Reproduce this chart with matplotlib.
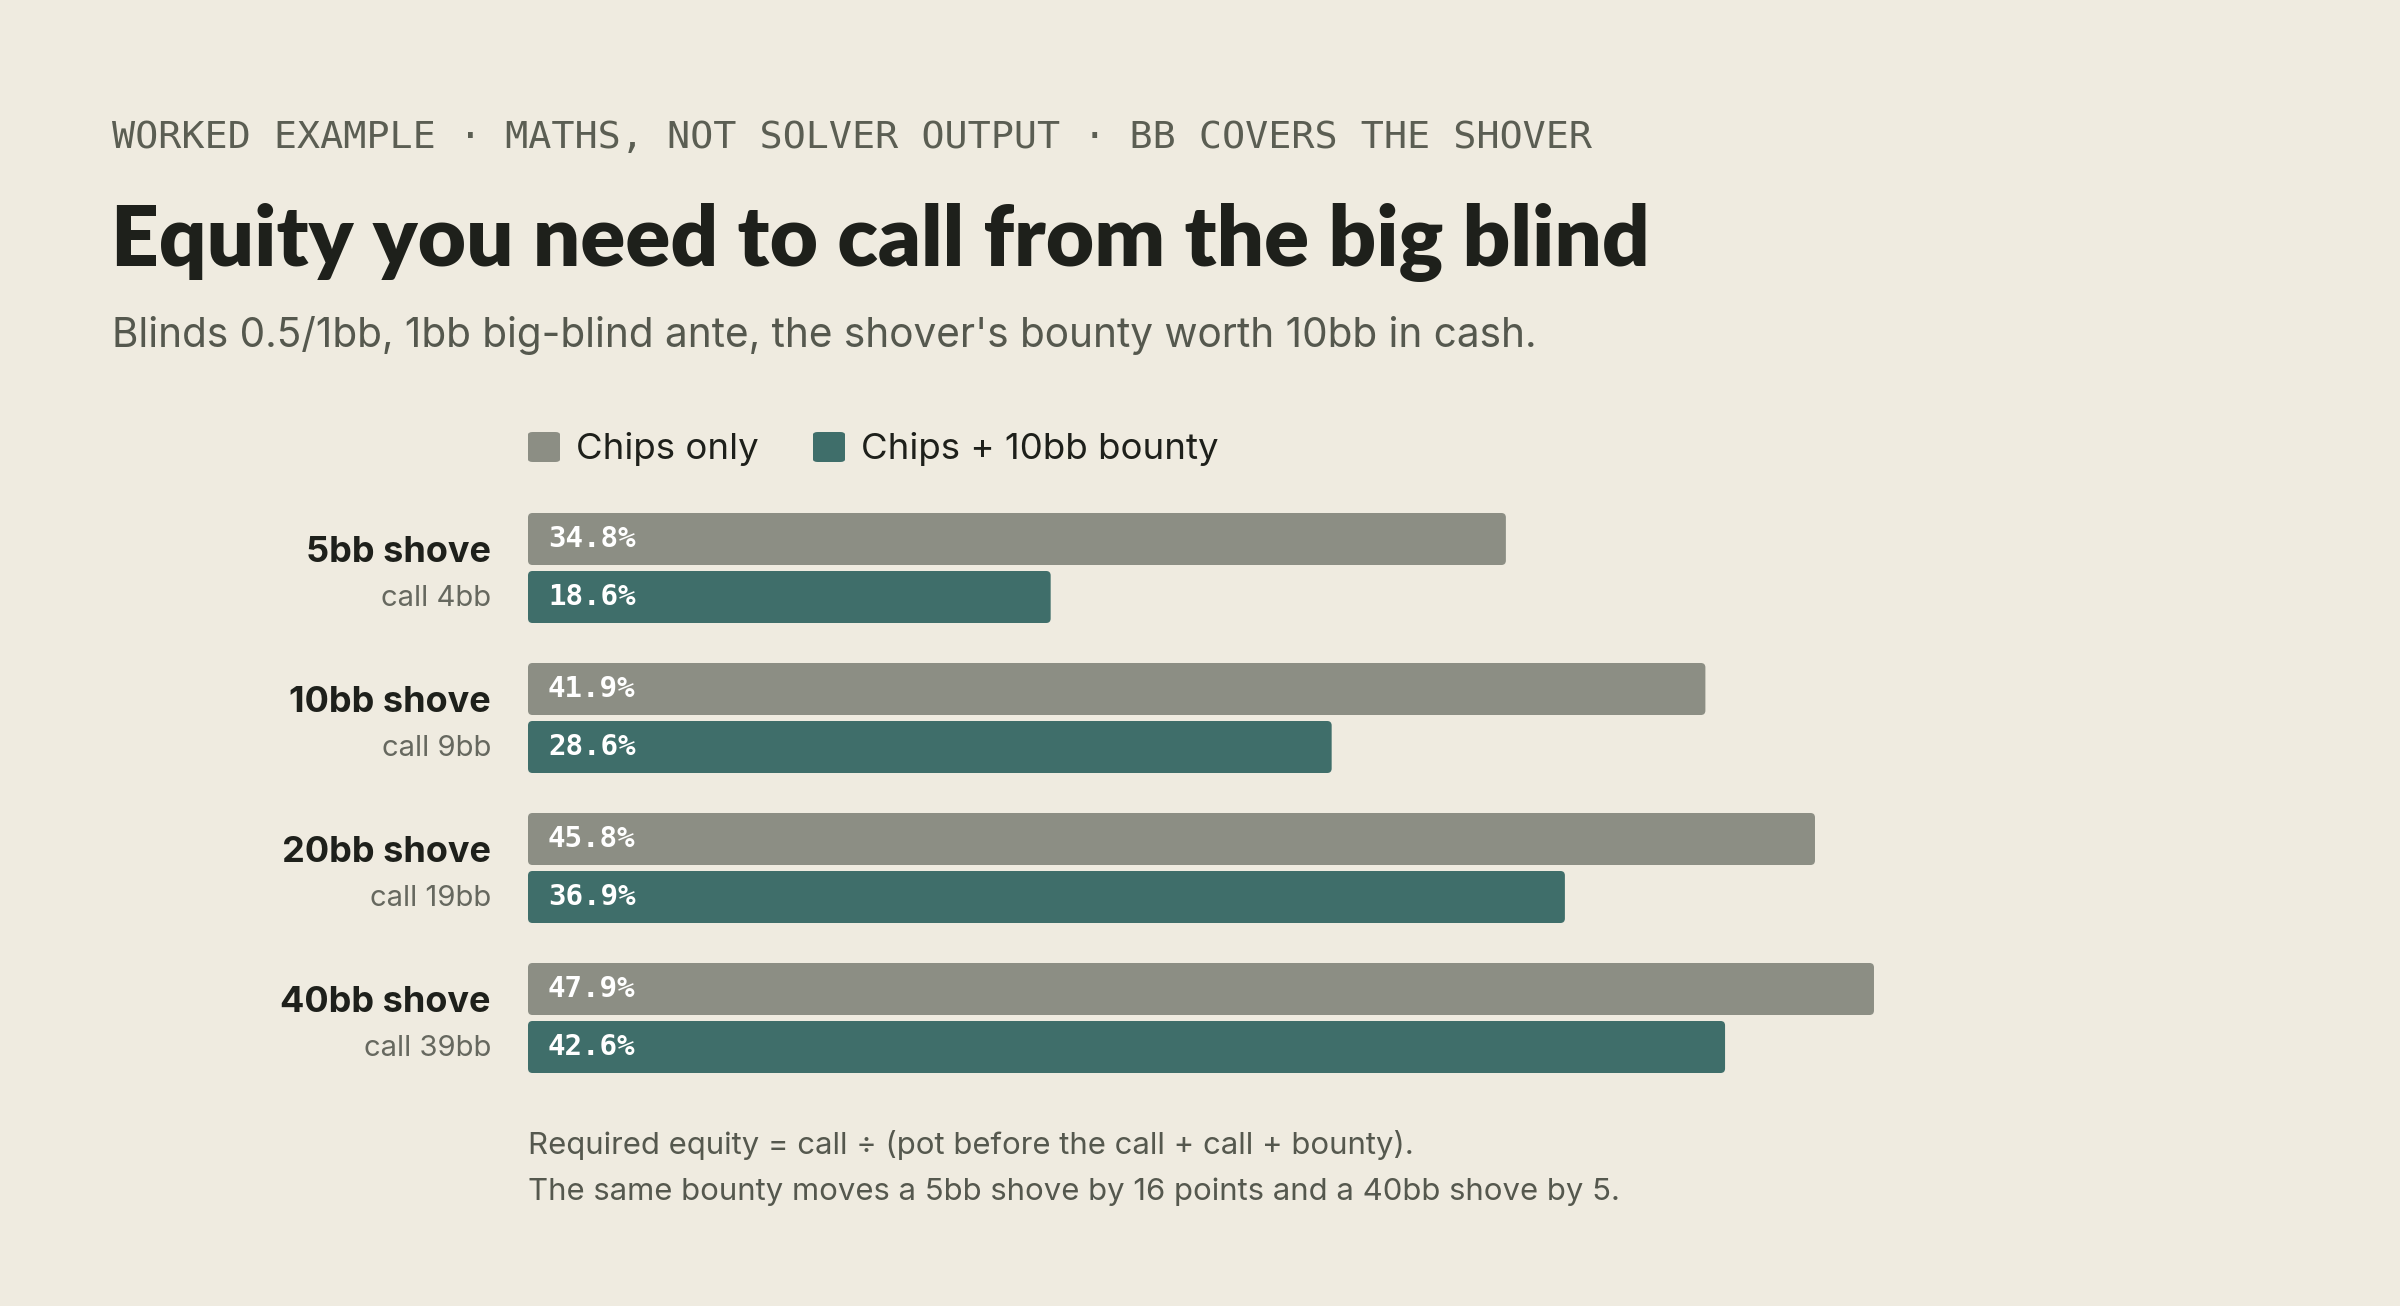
import matplotlib
matplotlib.use("Agg")
import matplotlib.pyplot as plt
from matplotlib.patches import FancyBboxPatch
from matplotlib.transforms import blended_transform_factory

# ---- data ----
categories = ["5bb shove", "10bb shove", "20bb shove", "40bb shove"]
call_labels = ["call 4bb", "call 9bb", "call 19bb", "call 39bb"]
chips_only = [34.8, 41.9, 45.8, 47.9]
chips_bounty = [18.6, 28.6, 36.9, 42.6]
series_names = ["Chips only", "Chips + 10bb bounty"]

header = "WORKED EXAMPLE · MATHS, NOT SOLVER OUTPUT · BB COVERS THE SHOVER"
title = "Equity you need to call from the big blind"
subtitle = "Blinds 0.5/1bb, 1bb big-blind ante, the shover's bounty worth 10bb in cash."
footnote1 = "Required equity = call ÷ (pot before the call + call + bounty)."
footnote2 = "The same bounty moves a 5bb shove by 16 points and a 40bb shove by 5."

# ---- style ----
BG = "#EFEBE0"
GRAY = "#8C8E84"
TEAL = "#3F6E6A"
DARK = "#1E201B"
MID = "#55584E"
SOFT = "#66685F"
SANS = ["Inter", "DejaVu Sans"]
TITLE_FONT = ["Lato", "DejaVu Sans"]
MONO = ["DejaVu Sans Mono"]

W, H = 2400, 1306
DPI = 200
fig = plt.figure(figsize=(W / DPI, H / DPI), dpi=DPI, facecolor=BG)

def fy(px):
    return 1 - px / H

def fx(px):
    return px / W

# axes placement (pixels)
ax_left, ax_right = 528, 528 + 28.1 * 60
ax_top, ax_bot = 493, 1093
ax = fig.add_axes([fx(ax_left), fy(ax_bot), (ax_right - ax_left) / W, (ax_bot - ax_top) / H])
ax.set_facecolor(BG)
ax.set_xlim(0, 60)
ax.set_ylim(len(categories) - 0.5, -0.5)
ax.axis("off")

bar_h = 52 / 150
off = 29 / 150
ys = list(range(len(categories)))
b1 = ax.barh([y - off for y in ys], chips_only, height=bar_h, color=GRAY, label=series_names[0])
b2 = ax.barh([y + off for y in ys], chips_bounty, height=bar_h, color=TEAL, label=series_names[1])

# round the bar corners slightly (x units: 28.1 px per unit, y units: 150 px per unit)
for bars in (b1, b2):
    for rect in bars:
        rect.set_visible(False)
        p = FancyBboxPatch((rect.get_x(), rect.get_y()), rect.get_width(), rect.get_height(),
                           boxstyle="round,pad=0,rounding_size=0.16",
                           mutation_aspect=28.1 / 150,
                           facecolor=rect.get_facecolor(), edgecolor="none")
        ax.add_patch(p)

for bars, vals in ((b1, chips_only), (b2, chips_bounty)):
    for rect, v in zip(bars, vals):
        cy = rect.get_y() + rect.get_height() / 2
        ax.annotate(f"{v:.1f}%", xy=(0, cy), xytext=(20, 0), textcoords="offset pixels",
                    ha="left", va="center", color="white", fontsize=10.5,
                    fontweight="bold", family=MONO)

tr = blended_transform_factory(ax.transAxes, ax.transData)
lab_x = (491 - ax_left) / (ax_right - ax_left)
for y, c, cl in zip(ys, categories, call_labels):
    ax.text(lab_x, y - 0.04, c, transform=tr, ha="right", va="baseline",
            fontsize=13, fontweight="bold", color=DARK, family=SANS)
    ax.text(lab_x, y + 0.25, cl, transform=tr, ha="right", va="baseline",
            fontsize=10.5, color=SOFT, family=SANS)

# header texts
fig.text(fx(112), fy(148), header, ha="left", va="baseline", fontsize=13.8,
         color="#5B5E53", family=MONO)
fig.text(fx(111), fy(266), title, ha="left", va="baseline", fontsize=30,
         fontweight="heavy", color=DARK, family=TITLE_FONT)
fig.text(fx(112), fy(347), subtitle, ha="left", va="baseline", fontsize=14.6,
         color=MID, family=SANS)

# legend
leg_items = [(528, series_names[0], GRAY), (813, series_names[1], TEAL)]
for x0, name, col in leg_items:
    fig.patches.append(FancyBboxPatch((fx(x0), fy(462)), 32 / W, 30 / H,
                                      boxstyle="round,pad=0,rounding_size=0.002",
                                      transform=fig.transFigure, facecolor=col,
                                      edgecolor="none", figure=fig))
    fig.text(fx(x0 + 48), fy(459), name, ha="left", va="baseline", fontsize=13.2,
             color=DARK, family=SANS)

# footnotes
fig.text(fx(528), fy(1154), footnote1, ha="left", va="baseline", fontsize=11.2,
         color=MID, family=SANS)
fig.text(fx(528), fy(1200), footnote2, ha="left", va="baseline", fontsize=11.2,
         color=MID, family=SANS)

fig.savefig("out.png", dpi=DPI, facecolor=BG)
